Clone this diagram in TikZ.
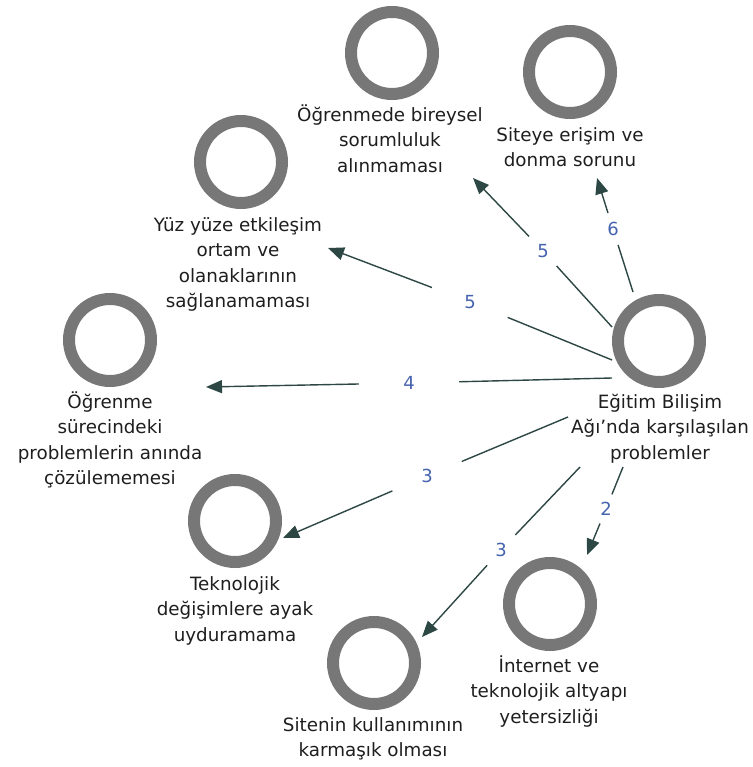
\documentclass[tikz,border=0pt]{standalone}
\usepackage{fontspec}
\setmainfont{DejaVu Sans}
\usetikzlibrary{arrows.meta}
\definecolor{ringgray}{HTML}{777777}
\definecolor{conncol}{HTML}{2C4744}
\definecolor{numblue}{HTML}{4563AE}
\definecolor{txtcol}{HTML}{1E1E1E}
\begin{document}
\begin{tikzpicture}[x=1pt,y=-1pt,
  ring/.style={circle,draw=ringgray,line width=12pt,minimum size=82pt,inner sep=0pt},
  lab/.style={anchor=north,align=center,inner sep=0pt,text=txtcol,font=\fontsize{18.3}{25.5}\selectfont},
  num/.style={circle,inner sep=0pt,text=numblue,font=\fontsize{18}{22}\selectfont},
  conn/.style={draw=conncol,line width=1.4pt},
  arr/.style={conn,-{Triangle[length=16pt,width=13pt]}}]
\useasboundingbox (0,0) rectangle (752,767);

% rings
\node[ring] (A) at (392,53) {};
\node[ring] (B) at (570,72) {};
\node[ring] (C) at (241,162) {};
\node[ring] (D) at (110,340) {};
\node[ring] (E) at (659,341) {};
\node[ring] (F) at (235,521) {};
\node[ring] (G) at (550,604) {};
\node[ring] (H) at (374,663) {};

% labels
\node[lab] (Al) at (390,103) {\strut Öğrenmede bireysel\\sorumluluk\\alınmaması\strut};
\node[lab] (Bl) at (570,123) {\strut Siteye erişim ve\\donma sorunu\strut};
\node[lab] (Cl) at (238,213) {\strut Yüz yüze etkileşim\\ortam ve\\olanaklarının\\sağlanamaması\strut};
\node[lab] (Dl) at (110,390) {\strut Öğrenme\\sürecindeki\\problemlerin anında\\çözülememesi\strut};
\node[lab] (El) at (660,390) {\strut Eğitim Bilişim\\Ağı’nda karşılaşılan\\problemler\strut};
\node[lab] (Fl) at (235,572) {\strut Teknolojik\\değişimlere ayak\\uyduramama\strut};
\node[lab] (Gl) at (549,654) {\strut İnternet ve\\teknolojik altyapı\\yetersizliği\strut};
\node[lab] (Hl) at (373,713) {\strut Sitenin kullanımının\\karmaşık olması\strut};

% number labels
\node[num,minimum size=33pt] (n6) at (613,229) {6};
\node[num,minimum size=40pt] (n5a) at (543,251) {5};
\node[num,minimum size=81pt] (n5b) at (470,302) {5};
\node[num,minimum size=100pt] (n4) at (409,383) {4};
\node[num,minimum size=75pt] (n3a) at (427,476) {3};
\node[num,minimum size=41pt] (n3b) at (501,550) {3};
\node[num,minimum size=31pt] (n2) at (606,509) {2};

% connector ends
\coordinate (s6) at (633,292);
\coordinate (s5a) at (612,327);
\coordinate (s5b) at (612,360);
\coordinate (s4) at (612,378);
\coordinate (s3a) at (568,417);
\coordinate (s3b) at (580,467);
\coordinate (s2) at (623,467);
\coordinate (tB) at (597,178);
\coordinate (tA) at (473,178);
\coordinate (tC) at (328,248);
\coordinate (tD) at (206,387);
\coordinate (tF) at (283,538);
\coordinate (tH) at (422,637);
\coordinate (tG) at (587,555);

% connectors
\draw[conn] (s6) -- (n6);   \draw[arr] (n6) -- (tB);
\draw[conn] (s5a) -- (n5a); \draw[arr] (n5a) -- (tA);
\draw[conn] (s5b) -- (n5b); \draw[arr] (n5b) -- (tC);
\draw[conn] (s4) -- (n4);   \draw[arr] (n4) -- (tD);
\draw[conn] (s3a) -- (n3a); \draw[arr] (n3a) -- (tF);
\draw[conn] (s3b) -- (n3b); \draw[arr] (n3b) -- (tH);
\draw[conn] (s2) -- (n2);   \draw[arr] (n2) -- (tG);
\end{tikzpicture}
\end{document}
